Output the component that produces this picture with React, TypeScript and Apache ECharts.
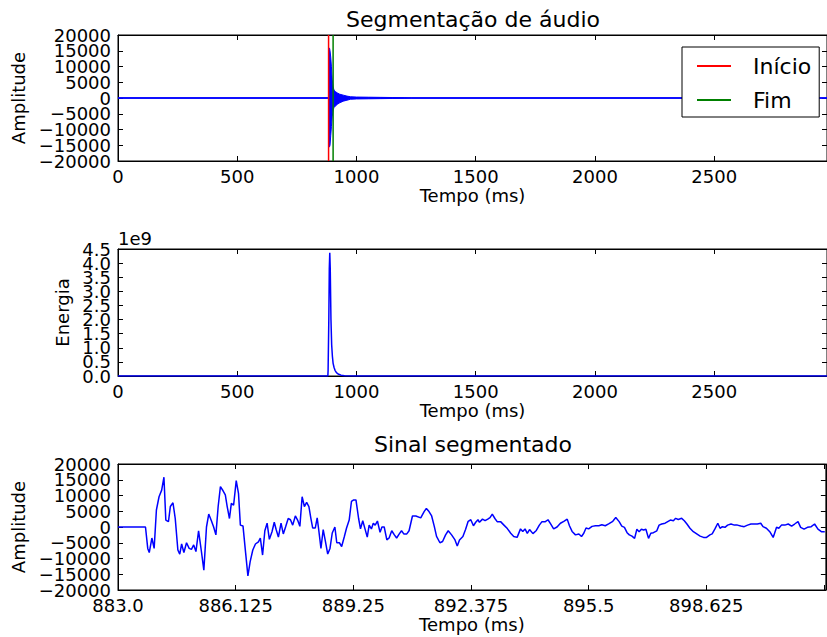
import React, { useEffect, useRef } from "react";
import * as echarts from "echarts";

const FONT = "DejaVu Sans";

// Top chart: full audio (envelope of the waveform)
const WAVE_END = 2973;
const waveTime = [0, 883, 884, 887, 889, 892, 895, 898, 902, 906, 912, 920, 930, 945, 960, 975, 1000, 1050, 1100, 1150, 1200, 1230, 2973];
const waveUpper = [0, 0, 15800, 15800, 15000, 13000, 9900, 6000, 3500, 2500, 2000, 1600, 1200, 900, 600, 400, 300, 250, 200, 150, 100, 0, 0];
const waveLower = [0, 0, -15500, -15500, -15000, -12000, -9000, -6000, -3800, -3000, -2500, -2000, -1500, -1000, -700, -400, -300, -250, -200, -150, -100, 0, 0];
const startMs = 883;
const endMs = 902;

// Middle chart: energy
const energyTime = [0, 880, 881, 884, 886, 888, 890, 893, 896, 899, 902, 906, 910, 916, 923, 935, 950, 1000, 2973];
const energyVal = [0, 0, 0.2e9, 2.0e9, 3.8e9, 4.37e9, 3.8e9, 2.0e9, 1.1e9, 0.7e9, 0.45e9, 0.3e9, 0.2e9, 0.12e9, 0.07e9, 0.03e9, 0.01e9, 0, 0];

// Bottom chart: segmented signal
const SEG_MIN = 883;
const SEG_MAX = 901.8;
const segTime = [
  883.0, 883.73, 883.79, 883.83, 883.9, 883.96, 884.02, 884.09, 884.16, 884.22, 884.27, 884.34, 884.39, 884.46, 884.52,
  884.59, 884.64, 884.69, 884.75, 884.82, 884.89, 884.95, 885.01, 885.07, 885.14, 885.21, 885.28, 885.35, 885.41, 885.48,
  885.54, 885.6, 885.66, 885.72, 885.79, 885.85, 885.9, 885.96, 886.01, 886.07, 886.14, 886.2, 886.25, 886.32, 886.39,
  886.45, 886.51, 886.58, 886.65, 886.73, 886.78, 886.84, 886.9, 886.96, 887.02, 887.09, 887.15, 887.2, 887.26, 887.33,
  887.39, 887.45, 887.52, 887.58, 887.64, 887.71, 887.77, 887.83, 887.89, 887.95, 888.01, 888.07, 888.12, 888.17, 888.24,
  888.29, 888.33, 888.39, 888.45, 888.5, 888.57, 888.63, 888.69, 888.76, 888.81, 888.88, 888.94, 889.01, 889.07, 889.14,
  889.2, 889.26, 889.32, 889.39, 889.44, 889.5, 889.56, 889.62, 889.67, 889.73, 889.78, 889.83, 889.89, 889.96, 890.01,
  890.07, 890.14, 890.2, 890.27, 890.34, 890.4, 890.47, 890.53, 890.59, 890.67, 890.73, 890.82, 890.91, 891.04, 891.13,
  891.19, 891.26, 891.33, 891.4, 891.46, 891.55, 891.62, 891.7, 891.77, 891.86, 891.95, 892.01, 892.07, 892.16, 892.23,
  892.3, 892.37, 892.44, 892.5, 892.56, 892.6, 892.68, 892.75, 892.82, 892.88, 892.94, 893.01, 893.07, 893.16, 893.25,
  893.34, 893.43, 893.51, 893.6, 893.69, 893.75, 893.81, 893.87, 893.93, 894.02, 894.11, 894.19, 894.26, 894.35, 894.42,
  894.49, 894.57, 894.66, 894.75, 894.84, 894.93, 894.99, 895.06, 895.15, 895.24, 895.31, 895.37, 895.43, 895.5, 895.59,
  895.68, 895.77, 895.85, 895.94, 896.03, 896.14, 896.22, 896.31, 896.38, 896.45, 896.52, 896.58, 896.65, 896.72, 896.78,
  896.84, 896.9, 896.96, 897.02, 897.09, 897.15, 897.22, 897.31, 897.37, 897.44, 897.53, 897.6, 897.67, 897.75, 897.81,
  897.88, 897.97, 898.04, 898.11, 898.19, 898.28, 898.37, 898.46, 898.55, 898.63, 898.72, 898.78, 898.85, 898.93, 898.99,
  899.05, 899.12, 899.19, 899.28, 899.37, 899.45, 899.54, 899.63, 899.72, 899.81, 899.9, 899.98, 900.07, 900.13, 900.22,
  900.31, 900.4, 900.49, 900.55, 900.62, 900.71, 900.8, 900.89, 900.97, 901.06, 901.13, 901.22, 901.31, 901.41, 901.5,
  901.59, 901.68, 901.77,
];
const segAmp = [
  0, 0, -6800, -8100, -3500, -6800, 5400, 9600, 11700, 15800, 2200, 1700, 6500, 7700, 2700,
  -7300, -8600, -5400, -8100, -5000, -6800, -7100, -5700, -7800, -1200, -7300, -13700, 0, 4100, 2000,
  0, -2500, 6500, 12800, 11500, 10200, 6500, 2700, 7500, 6900, 14700, 10700, 600, 300, -8300,
  -15500, -11000, -7300, -5400, -4700, -3500, -8900, -1200, 1200, -3900, -1500, 1500, -800, -3200, 1200,
  -2200, 0, 2700, 2300, 600, 3500, 2200, 200, 9600, 6500, 7800, 6500, 2900, -300, -300,
  2900, -800, -6800, -800, -4000, -8600, -6800, -1900, 0, -5000, -5000, -6200, -3100, -300, 2200,
  8100, 8600, 8600, 2700, -600, 2000, -600, -3200, 600, -600, 1200, 600, 1900, -1700, 0,
  0, -4100, -3500, -1200, -2500, -3500, -2200, -1200, -2200, -2200, -1200, 3500, 3500, 2900, 4900,
  5900, 4900, 3500, 200, -3000, -5000, -4600, -2500, -1200, -2500, -4100, -6000, -4100, -3000, -800,
  1800, 2300, 400, 1500, 2300, 1500, 2500, 2000, 2500, 3000, 4100, 2700, 1700, 1700, 600,
  -500, -2000, -3000, -3300, -600, -1400, -600, -2000, -800, -2100, -1100, 600, 1700, 1700, 2300,
  1000, -600, 0, 1200, 1800, 2500, 400, -1400, -2500, -2200, -3000, -2000, -300, -600, 200,
  400, 400, 700, 400, 1000, 1800, 3000, 1700, 300, -100, -1800, -2500, -2900, -3600, -700,
  -1500, -700, -950, -700, -3600, -2000, -1800, -1200, 600, 950, 1200, 1700, 2200, 2000, 2750,
  2400, 2750, 2000, 950, -400, -1500, -2200, -2900, -3300, -3300, -2500, -2200, -700, 1200, -400,
  100, -100, 600, 950, 600, 600, 300, 100, 600, 950, 950, 950, 1200, 100, -400,
  -1500, -3300, -100, -400, 600, 600, 950, 300, 950, 1700, -100, -700, -100, 100, 950,
  -700, -1500, -1500,
];

const BLUE = "#0000ff";
const minusFmt = (v: number) => (v < 0 ? "\u2212" + Math.abs(v) : String(v));

const labelStyle = { color: "#000", fontSize: 18, fontFamily: FONT };
const axisLine = { show: true, onZero: false, lineStyle: { color: "#000", width: 1 } };
const axisTick = { show: true, inside: true, length: 5, lineStyle: { color: "#000", width: 1 } };

function xPair(grid: number, min: number, max: number, interval: number, fmt: (v: number) => string) {
  return [
    {
      type: "value", gridIndex: grid, min, max, interval, position: "bottom",
      axisLine, axisTick, splitLine: { show: false },
      axisLabel: { ...labelStyle, margin: 6, formatter: fmt, showMinLabel: true, showMaxLabel: false },
      name: "Tempo (ms)", nameLocation: "middle", nameGap: 25, nameTextStyle: { ...labelStyle },
    },
    {
      type: "value", gridIndex: grid, min, max, interval, position: "top",
      axisLine, axisTick, splitLine: { show: false }, axisLabel: { show: false },
    },
  ];
}

// three y axes per grid: [left with inner labels, right (ticks only), left with min/max labels only]
function yTriple(grid: number, min: number, max: number, interval: number, fmt: (v: number) => string, name: string, nameGap: number) {
  return [
    {
      type: "value", gridIndex: grid, min, max, interval, position: "left",
      axisLine, axisTick, splitLine: { show: false },
      axisLabel: { ...labelStyle, margin: 7, formatter: fmt, showMinLabel: false, showMaxLabel: false },
      name, nameLocation: "middle", nameGap, nameRotate: 90, nameTextStyle: { ...labelStyle },
    },
    {
      type: "value", gridIndex: grid, min, max, interval, position: "right",
      axisLine, axisTick, splitLine: { show: false }, axisLabel: { show: false },
    },
    {
      type: "value", gridIndex: grid, min, max, interval, position: "left",
      axisLine: { show: false }, axisTick: { show: false }, splitLine: { show: false },
      axisLabel: {
        ...labelStyle, margin: 7, showMinLabel: true, showMaxLabel: true,
        formatter: (v: number) => (v === min || v === max ? fmt(v) : ""),
      },
    },
  ];
}

export default function App() {
  const ref = useRef<HTMLDivElement>(null);
  useEffect(() => {
    if (!ref.current) return;
    const chart = echarts.init(ref.current, null, { renderer: "svg" });
    const titleStyle = { fontSize: 22, fontWeight: "normal", fontFamily: FONT, color: "#000" };
    const option: any = {
      animation: false,
      backgroundColor: "#fff",
      title: [
        { text: "Segmentação de áudio", left: 473, top: 8, textAlign: "center", padding: 0, textStyle: titleStyle },
        { text: "1e9", left: 118, top: 229, padding: 0, textStyle: { ...titleStyle, fontSize: 18 } },
        { text: "Sinal segmentado", left: 473, top: 433, textAlign: "center", padding: 0, textStyle: titleStyle },
      ],
      legend: {
        data: ["Início", "Fim"],
        orient: "vertical",
        left: 682,
        top: 47,
        padding: [8, 8, 6, 15],
        itemGap: 12,
        itemWidth: 34,
        itemHeight: 2,
        icon: "rect",
        borderColor: "#000",
        borderWidth: 1,
        backgroundColor: "#fff",
        textStyle: { fontSize: 22, lineHeight: 22, fontFamily: FONT, color: "#000", padding: [0, 0, 0, 17] },
      },
      grid: [
        { left: 118, top: 35, width: 710, height: 126, show: true, borderColor: "#000", borderWidth: 1, backgroundColor: "transparent" },
        { left: 118, top: 249, width: 710, height: 127, show: true, borderColor: "#000", borderWidth: 1, backgroundColor: "transparent" },
        { left: 118, top: 464, width: 710, height: 126, show: true, borderColor: "#000", borderWidth: 1, backgroundColor: "transparent" },
      ],
      xAxis: [
        ...xPair(0, 0, WAVE_END, 500, (v: number) => String(v)),
        ...xPair(1, 0, WAVE_END, 500, (v: number) => String(v)),
        ...xPair(2, SEG_MIN, SEG_MAX, 3.125, (v: number) => (v > 900 ? "" : Number.isInteger(v) ? v.toFixed(1) : String(v))),
      ],
      yAxis: [
        ...yTriple(0, -20000, 20000, 5000, minusFmt, "Amplitude", 90),
        ...yTriple(1, 0, 4.5e9, 0.5e9, (v: number) => (v / 1e9).toFixed(1), "Energia", 43),
        ...yTriple(2, -20000, 20000, 5000, minusFmt, "Amplitude", 90),
      ],
      series: [
        {
          name: "sinal+", type: "line", xAxisIndex: 0, yAxisIndex: 0, symbol: "none", silent: true,
          data: waveTime.map((t, i) => [t, waveUpper[i]]),
          lineStyle: { color: BLUE, width: 1 }, itemStyle: { color: BLUE },
          areaStyle: { color: BLUE, opacity: 1 },
        },
        {
          name: "sinal-", type: "line", xAxisIndex: 0, yAxisIndex: 0, symbol: "none", silent: true,
          data: waveTime.map((t, i) => [t, waveLower[i]]),
          lineStyle: { color: BLUE, width: 1 }, itemStyle: { color: BLUE },
          areaStyle: { color: BLUE, opacity: 1 },
        },
        {
          name: "sinal0", type: "line", xAxisIndex: 0, yAxisIndex: 0, symbol: "none", silent: true,
          data: [[0, 0], [WAVE_END, 0]],
          lineStyle: { color: BLUE, width: 1.5 }, itemStyle: { color: BLUE },
        },
        {
          name: "Início", type: "line", xAxisIndex: 0, yAxisIndex: 0, symbol: "none",
          data: [[startMs, -20000], [startMs, 20000]],
          lineStyle: { color: "#ff0000", width: 1.5 }, itemStyle: { color: "#ff0000" },
        },
        {
          name: "Fim", type: "line", xAxisIndex: 0, yAxisIndex: 0, symbol: "none",
          data: [[endMs, -20000], [endMs, 20000]],
          lineStyle: { color: "#008000", width: 1.5 }, itemStyle: { color: "#008000" },
        },
        {
          name: "energia", type: "line", xAxisIndex: 2, yAxisIndex: 3, symbol: "none",
          data: energyTime.map((t, i) => [t, energyVal[i]]),
          lineStyle: { color: BLUE, width: 1.5 }, itemStyle: { color: BLUE },
        },
        {
          name: "segmento", type: "line", xAxisIndex: 4, yAxisIndex: 6, symbol: "none",
          data: segTime.map((t, i) => [t, segAmp[i]]),
          lineStyle: { color: BLUE, width: 1.5 }, itemStyle: { color: BLUE },
        },
      ],
    };
    chart.setOption(option);
    return () => chart.dispose();
  }, []);
  return <div ref={ref} style={{ position: "absolute", left: 0, top: 0, width: 827, height: 637 }} />;
}
